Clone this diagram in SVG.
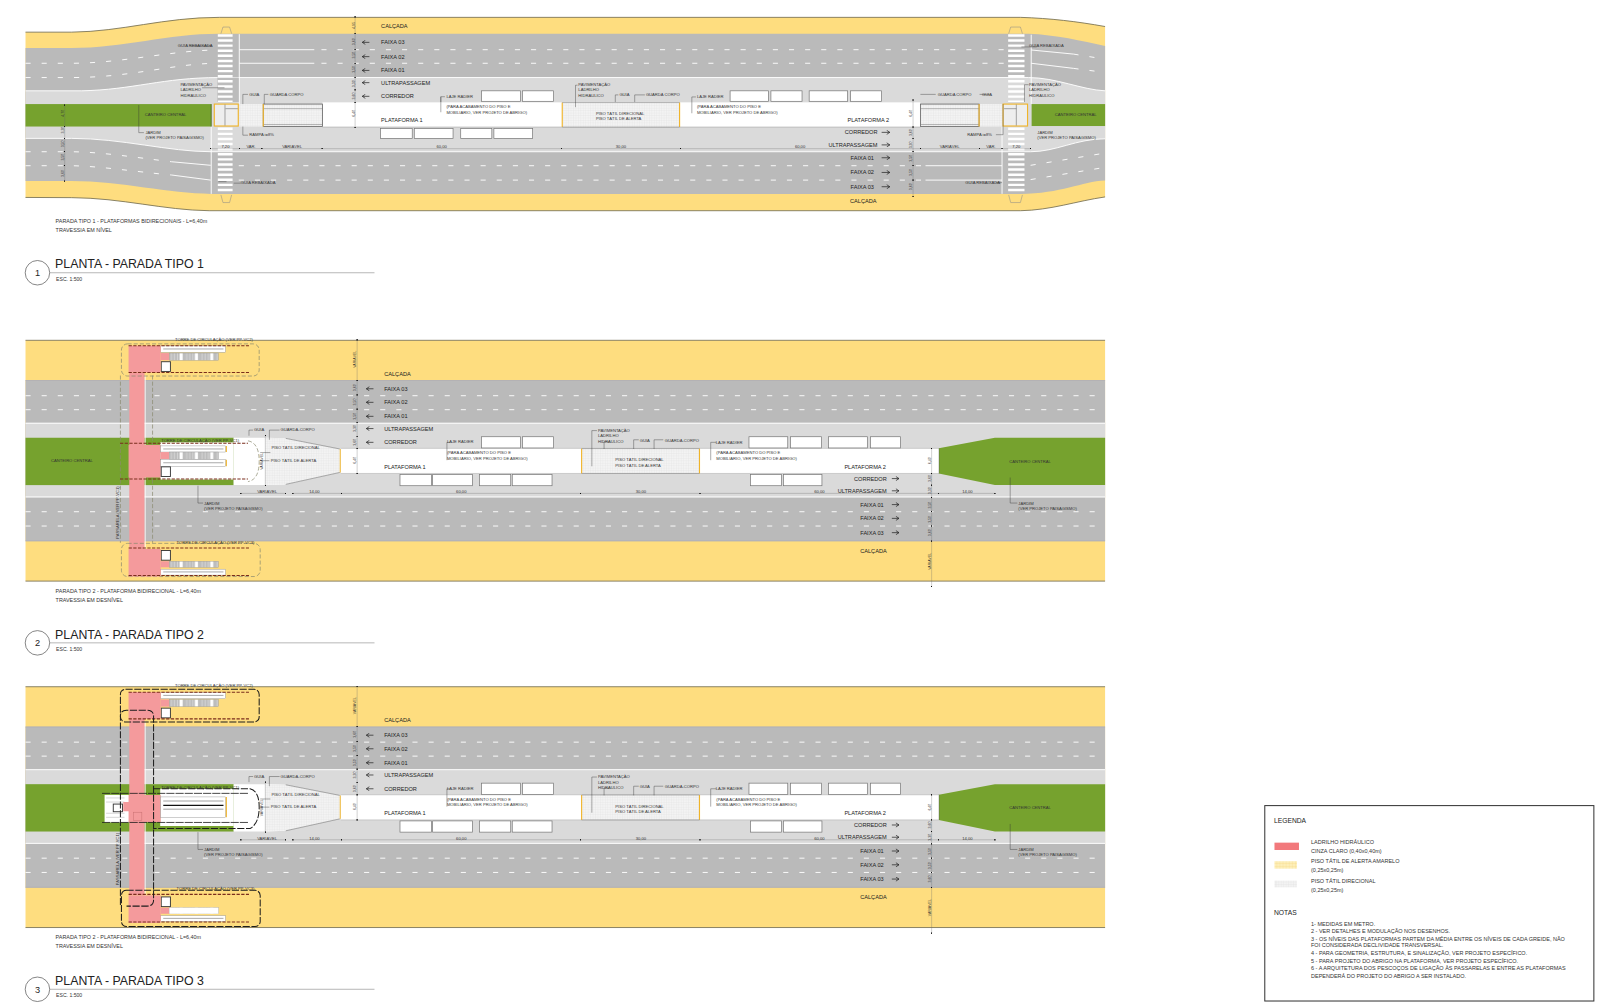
<svg xmlns="http://www.w3.org/2000/svg" width="1600" height="1008" viewBox="0 0 1600 1008">
<style>
text{font-family:"Liberation Sans",Arial,sans-serif;fill:#222}
.r{font-size:5.5px}.s{font-size:4.05px;fill:#333}.c{font-size:5.3px;fill:#333}.n{font-size:5.4px;fill:#333}.q{font-size:5px;fill:#333}
.h{font-size:6.6px}.t{font-size:12.1px}.v{font-size:3.5px;text-anchor:middle;fill:#333}.e{text-anchor:end}.m{text-anchor:middle}
.yel{fill:#fedd7f}.gry{fill:#bababa}.lgt{fill:#dadada}.grn{fill:#76a22e}.pnk{fill:#f49a9c}
.edge{fill:none;stroke:#6f6a50;stroke-width:.8}.wl{fill:none;stroke:#fff;stroke-width:.9}
.d{fill:none;stroke:#fff;stroke-width:.9;stroke-dasharray:5 10.8}
.zb{fill:none;stroke:#fff;stroke-dasharray:2.4 2.6}
.sh{fill:#fff;stroke:#777;stroke-width:.7}
.dim{fill:none;stroke:#666;stroke-width:.3;marker-start:url(#tk);marker-mid:url(#tk);marker-end:url(#tk)}
.ld{fill:none;stroke:#333;stroke-width:.4}
.ar{fill:none;stroke:#222;stroke-width:.7;marker-end:url(#ah)}
.oy{fill:none;stroke:#f0b429;stroke-width:1.1}
.rail{fill:none;stroke:#7a2d1c;stroke-width:1;stroke-dasharray:3.2 1.4}
.dg{fill:none;stroke:#8a8a70;stroke-width:.7;stroke-dasharray:4 2}
.dk{fill:none;stroke:#1c1c1c;stroke-width:1;stroke-dasharray:7 1.6}
.esc{fill:#fff;stroke:#888;stroke-width:.4}.escg{fill:url(#stp);stroke:#999;stroke-width:.4}
.box{fill:#fff;stroke:#333;stroke-width:.9}
</style>
<defs>
<pattern id="dir" width="2.4" height="2.4" patternUnits="userSpaceOnUse"><rect width="2.4" height="2.4" fill="#f3f3f3"/><path d="M0,0H2.4M0,0V2.4" stroke="#dcdcdc" stroke-width=".4"/></pattern>
<pattern id="ale" width="3" height="3" patternUnits="userSpaceOnUse"><rect width="3" height="3" fill="#fdeeb8"/><path d="M0,0H3M0,0V3" stroke="#f5d47a" stroke-width=".5"/></pattern>
<pattern id="stp" x="166" width="15" height="7" patternUnits="userSpaceOnUse"><rect width="15" height="7" fill="#bdbdbd"/><rect x="10" width="3" height="7" fill="#fff"/><path d="M2,0V7M5,0V7M8,0V7" stroke="#e8e8e8" stroke-width=".5"/></pattern>
<marker id="tk" markerUnits="userSpaceOnUse" markerWidth="1.4" markerHeight="1.4" refX=".7" refY=".7"><rect width="1.4" height="1.4" fill="#111"/></marker>
<marker id="ah" markerUnits="userSpaceOnUse" markerWidth="5" markerHeight="5" refX="4.4" refY="2.5" orient="auto"><path d="M1.4,.5L4.4,2.5L1.4,4.5" fill="none" stroke="#222" stroke-width=".7"/></marker>
<g id="base23">
<rect class="yel" x="25" y="333.5" width="1058" height="236"/>
<path class="edge" d="M25,333.5H1083M25,569.5H1083"/>
<rect class="gry" x="25" y="372.7" width="1058" height="157.6"/>
<path d="M25,372.9H1083M25,530.1H1083" stroke="#a9aab8" stroke-width=".7" fill="none"/>
<rect class="lgt" x="25" y="414.3" width="1058" height="73.2"/>
<path class="wl" d="M25,414.8H1083M25,487H1083"/>
<path class="d" d="M25,387.8H1083M25,401.5H1083M25,501.5H1083M25,515.5H1083"/>
<rect class="grn" x="25" y="429" width="204" height="46.4"/>
<polygon class="grn" points="920,439.4 975,429 1083,429 1083,475.4 975,475.4 920,464"/>
<path d="M920,439.4V464" stroke="#555" stroke-width=".9"/>
<rect fill="#fff" x="157" y="433.5" width="72" height="36.5"/>
<polygon fill="#fff" points="229,429 260,429 280,429.6 333,440 333,463 280,474.7 260,475.4 229,475.4"/>
<polygon fill="url(#dir)" points="260,429 280,429.6 333,440 333,463 280,474.7 260,475.4"/>
<path d="M280,429.6L333,440M280,474.7L333,463" stroke="#777" stroke-width=".6" fill="none"/>
<path class="oy" d="M333.5,440V463"/>
<rect fill="#fff" x="334" y="439.4" width="586" height="24.6"/>
<path d="M334,439.4H920M334,464H920" stroke="#aaa" stroke-width=".5"/>
<rect fill="url(#dir)" x="570" y="439.6" width="115.5" height="24.2"/>
<path class="oy" d="M570,439.6V464M685.5,439.6V464"/>
<path d="M570,439.6H685.5M570,464H685.5" stroke="#888" stroke-width=".6"/>
<rect class="sh" x="472" y="428" width="38" height="11"/><rect class="sh" x="512" y="428" width="30.5" height="11"/>
<rect class="sh" x="734" y="428" width="38" height="11"/><rect class="sh" x="774.7" y="428" width="30.5" height="11"/>
<rect class="sh" x="812" y="428" width="38" height="11"/><rect class="sh" x="853" y="428" width="29.5" height="11"/>
<rect class="sh" x="392" y="465" width="31" height="11"/><rect class="sh" x="424" y="465" width="39" height="11"/>
<rect class="sh" x="470" y="465" width="30.5" height="11"/><rect class="sh" x="502" y="465" width="39" height="11"/>
<rect class="sh" x="735.5" y="465" width="30.5" height="11"/><rect class="sh" x="767.7" y="465" width="37.8" height="11"/>
<path class="ar" d="M366,381H359"/><path class="ar" d="M366,394.3H359"/><path class="ar" d="M366,408H359"/><path class="ar" d="M366,420H359"/><path class="ar" d="M366,433.5H359"/>
<path class="ar" d="M874,469H881"/><path class="ar" d="M874,481H881"/><path class="ar" d="M874,494.5H881"/><path class="ar" d="M874,508H881"/><path class="ar" d="M874,522H881"/>
<path class="dim" d="M350,333V372.7V387V401V414.3V427.5V439.4V464"/>
<path class="dim" d="M913,439.4V464V475.5V487.5V501.5V515.5V530.3V575"/>
<path class="dim" d="M236,483.5H280M287,483.5H334.6H569H686H920H975"/>
<path class="dim" d="M260,427V476"/>
<path class="ld" d="M244,427V421.5H248M264,431V421.5H274M194,476V493H199M438,433.5V451M438,433.5H441M702,433.5H696.5V451M580,457V422H585M592,440V433H597M621,440V431H626M641,440V431H650M990,468V493H997M255,443.5H265M255,451.5H264"/>
</g>
<g id="tw-top">
<rect class="esc" x="157.5" y="339" width="63.5" height="6.3"/><path d="M160,342H219" stroke="#555" stroke-width=".5"/>
<rect class="pnk" x="157.5" y="346" width="8.5" height="7"/><rect class="escg" x="166" y="346" width="48" height="7"/>
<rect class="box" x="158" y="354.5" width="9" height="9.5"/>
<rect class="pnk" x="126" y="338.8" width="31.5" height="26.2"/>
<path class="rail" d="M126,338.8H244M126,365H244"/>
</g>
<g id="tw-bot">
<rect class="esc" x="157.5" y="557.8" width="63.5" height="5.8"/><path d="M160,560.5H219" stroke="#555" stroke-width=".5"/>
<rect class="pnk" x="157.5" y="550" width="8.5" height="6"/><rect class="escg" x="166" y="550" width="48" height="6"/>
<rect class="box" x="158" y="539.5" width="9" height="9.5"/>
<rect class="pnk" x="126" y="538" width="31.5" height="27"/>
<path class="rail" d="M126,537H244M126,564H244"/>
</g>
<rect id="bridge" class="pnk" x="126.7" y="365" width="15" height="173"/>
</defs>
<rect width="1600" height="1008" fill="#fff"/>
<g transform="scale(1.0204)">
<g id="plano-1">
<path class="yel" d="M25,31.5L70,31.5C120,31 160,17 215,17L1000,17C1030,18 1055,21 1083,26L1083,193C1055,197 1030,206 1000,206.5L205,206.5C160,206 120,194 70,193.7L25,193.5Z"/>
<path class="edge" d="M25,31.5L70,31.5C120,31 160,17 215,17L1000,17C1030,18 1055,21 1083,26M1083,193C1055,197 1030,206 1000,206.5L205,206.5C160,206 120,194 70,193.7L25,193.5"/>
<path class="gry" d="M25,47L70,47C120,47 165,33 214,33L1008,33C1035,34 1060,40 1083,45L1083,177C1060,178 1040,190 1000,190L207,190C165,190 120,177.5 70,177.5L25,177.5Z"/>
<path class="lgt" d="M25,89L80,89C130,88 160,76 214,76L1008,76C1035,76 1060,88 1083,89L1083,136C1055,136 1035,148.7 1010,148.7L207,148.7C165,148.7 120,135.6 70,135.6L25,135.6Z"/>
<path class="wl" d="M25,89L80,89C130,88 160,76 214,76L1008,76C1035,76 1060,88 1083,89M25,135.6L70,135.6C120,135.6 165,148.7 207,148.7L1010,148.7C1035,148.7 1055,136 1083,136"/>
<path class="d" d="M25,62L70,62C120,62 170,49 214,49M25,76L70,76C130,76 170,62 214,62M315,48.7H988M315,62H988M1052,53L1083,58M1052,67L1083,71M25,148.7L70,148.7C100,149 130,154 168,158.5M25,162.4L70,162.4C100,163 130,168 168,171.5M234,162.4H907M234,176.5H907M1010,162L1083,150M1010,176L1083,164"/>
<path class="wl" d="M234.5,48.7H308M234.5,62H308M168,158.5L206.5,162M168,171.5L206.5,176.5M907,162.4H982M907,176.5H982M1010.6,49L1052,53M1010.6,62L1052,67M234.5,33.5V102M1010.6,34V102M207,124V190M982,124V190"/>
<rect fill="#bcbcbc" x="213" y="76" width="21" height="24"/>
<path class="zb" stroke-width="14.5" d="M220.7,33.5V100M220.7,125V190"/>
<path class="zb" stroke-width="16" d="M996,33.5V100M996,125V190"/>
<path d="M216.5,33L218.5,26.5H225L227,33M216.5,191L218.5,198.5H225L227,191M988.5,33L990.5,26.5H1000L1002,33M988.5,191L990.5,198.5H1000L1002,191" fill="none" stroke="#888" stroke-width=".5"/>
<rect class="grn" x="25" y="102" width="182" height="22"/>
<path d="M207,102V124" stroke="#4c6a1c" stroke-width=".8"/>
<rect class="grn" x="1011" y="102" width="72" height="21.5"/>
<rect fill="#fff" x="316" y="100.3" width="586" height="24.2"/>
<path d="M316,124.5H902" stroke="#999" stroke-width=".5"/>
<rect fill="url(#dir)" x="551" y="100.5" width="115" height="24"/>
<path class="oy" d="M551,100.5V124.5M666,100.5V124.5"/>
<path d="M551,100.5H666M551,124.5H666" stroke="#888" stroke-width=".6"/>
<rect fill="url(#dir)" x="234.5" y="102" width="23.5" height="22"/>
<rect fill="url(#dir)" x="258" y="102" width="58" height="22" stroke="#666" stroke-width=".8"/>
<path d="M258,106.5H316M258,122H316" stroke="#777" stroke-width=".5"/>
<path class="oy" d="M258,102V124"/>
<rect fill="url(#dir)" x="959.5" y="102" width="23.5" height="22"/>
<rect fill="url(#dir)" x="902" y="102" width="57.5" height="22" stroke="#666" stroke-width=".8"/>
<path d="M902,106.5H959.5M902,122H959.5" stroke="#777" stroke-width=".5"/>
<path class="oy" d="M959.5,102V124"/>
<rect x="210" y="102" width="23.5" height="21.5" fill="#eee" stroke="#f0b429" stroke-width="1.1"/>
<path d="M220.5,102.5V123M221,106.5H233" stroke="#555" stroke-width=".5" fill="none"/>
<rect x="983" y="102" width="24" height="21.5" fill="#eee" stroke="#f0b429" stroke-width="1.1"/>
<path d="M996,102.5V123M984,106.5H996" stroke="#555" stroke-width=".5" fill="none"/>
<rect class="sh" x="472" y="89" width="38" height="10.3"/><rect class="sh" x="512" y="89" width="30.5" height="10.3"/>
<rect class="sh" x="715.5" y="89" width="37.5" height="10.3"/><rect class="sh" x="755.5" y="89" width="30.5" height="10.3"/>
<rect class="sh" x="793" y="89" width="37.7" height="10.3"/><rect class="sh" x="833.5" y="89" width="30.5" height="10.3"/>
<rect class="sh" x="373" y="126" width="31" height="9.6"/><rect class="sh" x="406" y="126" width="38" height="9.6"/>
<rect class="sh" x="451.5" y="126" width="30.5" height="9.6"/><rect class="sh" x="484" y="126" width="38" height="9.6"/>
<path class="ar" d="M362,41.5H355"/><path class="ar" d="M362,55.5H355"/><path class="ar" d="M362,69H355"/><path class="ar" d="M362,81H355"/><path class="ar" d="M362,94.4H355"/>
<path class="ar" d="M864,129.7H872"/><path class="ar" d="M864,142H872"/><path class="ar" d="M864,154.6H872"/><path class="ar" d="M864,169H872"/><path class="ar" d="M864,183H872"/>
<path class="dim" d="M348,16.5V33V48.7V62V76V88V100.3V124.8"/>
<path class="dim" d="M63.4,103V124V135.6V148.7V162.4V177.5"/>
<path class="dim" d="M894.8,98V124.5V136V148.7V162.4V176.5V192.8"/>
<path class="dim" d="M206.5,145.7H234.5H256.6H315.7H550H667H902H960H982H1010"/>
<path class="ld" d="M136,103V130H141M238,102V92.5H243M259,102V92.5H263M238,124V132.5H243M222,178H214M236,179.5H229M208,45H186M220,86H198M432,100V94.8H436M432,94.8V110M564,105V83.5H566M603,100V93H606M622,100V93H632M678,95H682M678,95V111M1001,46H1016M1004,100V83H1008M970,92.5H960M917,92.5H902M983,102V132H976M982,179H976"/>
<text class="r" x="373.5" y="27.5">CALÇADA</text>
<text class="r" x="373.5" y="43.5">FAIXA 03</text><text class="r" x="373.5" y="57.5">FAIXA 02</text><text class="r" x="373.5" y="71">FAIXA 01</text><text class="r" x="373.5" y="83">ULTRAPASSAGEM</text><text class="r" x="373.5" y="96.5">CORREDOR</text>
<text class="r" x="373.5" y="119.5">PLATAFORMA 1</text><text class="r" x="830.5" y="119.5">PLATAFORMA 2</text>
<text class="r e" x="860" y="131.7">CORREDOR</text><text class="r e" x="860" y="144">ULTRAPASSAGEM</text><text class="r e" x="856.5" y="156.6">FAIXA 01</text><text class="r e" x="856.5" y="171">FAIXA 02</text><text class="r e" x="856.5" y="185">FAIXA 03</text>
<text class="r" x="833" y="198.7">CALÇADA</text>
<text class="s" x="174.3" y="46.3">GUIA REBAIXADA</text><text class="s" x="236" y="180.5">GUIA REBAIXADA</text><text class="s" x="1008.5" y="46.3">GUIA REBAIXADA</text><text class="s" x="946" y="180.5">GUIA REBAIXADA</text>
<text class="s" x="176.8" y="84.5">PAVIMENTAÇÃO</text><text class="s" x="176.8" y="89.5">LADRILHO</text><text class="s" x="176.8" y="95">HIDRÁULICO</text>
<text class="s" x="1008.5" y="84.5">PAVIMENTAÇÃO</text><text class="s" x="1008.5" y="89.5">LADRILHO</text><text class="s" x="1008.5" y="95">HIDRÁULICO</text>
<text class="s" x="566.8" y="84.5">PAVIMENTAÇÃO</text><text class="s" x="566.8" y="89.5">LADRILHO</text><text class="s" x="566.8" y="95">HIDRÁULICO</text>
<text class="s" x="244.3" y="93.8">GUIA</text><text class="s" x="264.3" y="93.8">GUARDA CORPO</text>
<text class="s" x="607" y="93.8">GUIA</text><text class="s" x="633" y="93.8">GUARDA CORPO</text>
<text class="s" x="919" y="93.8">GUARDA CORPO</text><text class="s" x="962.3" y="93.8">GUIA</text>
<text class="s" x="584" y="113">PISO TÁTIL DIRECIONAL</text><text class="s" x="584" y="118">PISO TÁTIL DE ALERTA</text>
<text class="s" x="437.5" y="96">LAJE RADIER</text><text class="s" x="437.5" y="106.2">(PARA ACABAMENTO DO PISO E</text><text class="s" x="437.5" y="111.7">MOBILIÁRIO, VER PROJETO DE ABRIGO)</text>
<text class="s" x="683" y="96">LAJE RADIER</text><text class="s" x="683" y="106.2">(PARA ACABAMENTO DO PISO E</text><text class="s" x="683" y="111.7">MOBILIÁRIO, VER PROJETO DE ABRIGO)</text>
<text class="s" x="141.8" y="113.3">CANTEIRO CENTRAL</text><text class="s" x="1033.7" y="113.3">CANTEIRO CENTRAL</text>
<text class="s" x="142.5" y="131.3">JARDIM</text><text class="s" x="142.5" y="136.5">(VER PROJETO PAISAGISMO)</text>
<text class="s" x="1016.6" y="131.3">JARDIM</text><text class="s" x="1016.6" y="136.5">(VER PROJETO PAISAGISMO)</text>
<text class="s" x="244.3" y="133.7">RAMPA i=8%</text><text class="s" x="948" y="133.7">RAMPA i=8%</text>
<text class="s" x="217" y="144.8">7,20</text><text class="s" x="241.5" y="144.8">VAR.</text><text class="s" x="276.5" y="144.8">VARIÁVEL</text><text class="s" x="427.7" y="144.8">60,00</text><text class="s" x="603.5" y="144.8">30,00</text><text class="s" x="779" y="144.8">60,00</text><text class="s" x="921" y="144.8">VARIÁVEL</text><text class="s" x="966.5" y="144.8">VAR.</text><text class="s" x="992" y="144.8">7,20</text>
<text class="v" transform="rotate(-90 347.5 25)" x="347.5" y="25">4,95</text><text class="v" transform="rotate(-90 347.5 41)" x="347.5" y="41">3,60</text><text class="v" transform="rotate(-90 347.5 54)" x="347.5" y="54">3,50</text><text class="v" transform="rotate(-90 347.5 68)" x="347.5" y="68">3,50</text><text class="v" transform="rotate(-90 347.5 82)" x="347.5" y="82">3,30</text><text class="v" transform="rotate(-90 347.5 94)" x="347.5" y="94">3,60</text><text class="v" transform="rotate(-90 347.5 111)" x="347.5" y="111">6,40</text>
<text class="v" transform="rotate(-90 62.5 111)" x="62.5" y="111">4,70</text><text class="v" transform="rotate(-90 62.5 127.5)" x="62.5" y="127.5">3,30</text><text class="v" transform="rotate(-90 62.5 141)" x="62.5" y="141">3,50</text><text class="v" transform="rotate(-90 62.5 154)" x="62.5" y="154">3,50</text><text class="v" transform="rotate(-90 62.5 170)" x="62.5" y="170">3,60</text>
<text class="v" transform="rotate(-90 894 111)" x="894" y="111">6,40</text><text class="v" transform="rotate(-90 894 130)" x="894" y="130">3,60</text><text class="v" transform="rotate(-90 894 142)" x="894" y="142">3,30</text><text class="v" transform="rotate(-90 894 155)" x="894" y="155">3,50</text><text class="v" transform="rotate(-90 894 169)" x="894" y="169">3,50</text><text class="v" transform="rotate(-90 894 183)" x="894" y="183">3,60</text>
<text class="c" x="54.5" y="219">PARADA TIPO 1 - PLATAFORMAS BIDIRECIONAIS - L=6,40m</text><text class="c" x="54.5" y="227">TRAVESSIA EM NÍVEL</text>
<circle cx="36.7" cy="267.3" r="12" fill="#fff" stroke="#555" stroke-width=".7"/><text class="h m" x="36.7" y="270.5" style="font-size:9px">1</text>
<path d="M49,267.3H367" stroke="#888" stroke-width=".6"/>
<text class="t" x="54" y="263">PLANTA - PARADA TIPO 1</text><text class="q" x="55" y="275.5">ESC. 1:500</text>
</g>

<g id="plano-2">
<use href="#base23"/>
<use href="#bridge"/>
<path d="M142.3,368V538" stroke="#fff" stroke-width=".8"/>
<path class="dg" d="M118,368V532M149.5,368V532"/>
<rect x="119" y="337" width="135" height="31.5" rx="6" class="dg"/><rect x="119" y="532.5" width="136" height="32.5" rx="6" class="dg"/>
<use href="#tw-top"/><use href="#tw-bot"/>
<rect class="pnk" x="126" y="436" width="31.5" height="32"/>
<rect class="esc" x="157.5" y="437" width="63.5" height="6"/><path d="M160,440H219" stroke="#555" stroke-width=".5"/>
<rect class="pnk" x="157.5" y="443" width="8.5" height="7"/><rect class="escg" x="166" y="443" width="48" height="7"/>
<rect class="esc" x="157.5" y="450.5" width="63.5" height="6.5"/><path d="M160,453.5H219" stroke="#555" stroke-width=".5"/>
<rect class="box" x="158" y="457.5" width="9" height="9.5"/>
<path class="oy" d="M221.8,437V443M221.8,450.5V457"/>
<path class="rail" d="M117.6,434.5H243M117.6,469.5H243"/>
<path class="dg" d="M243,432Q254,434 254,452Q254,470 243,472"/>
<text class="s" x="171.5" y="334">TORRE DE CIRCULAÇÃO (VER PP-VC2)</text><text class="s" x="158" y="433.3">TORRE DE CIRCULAÇÃO (VER PP-VC1)</text><text class="s" x="173" y="533">TORRE DE CIRCULAÇÃO (VER PP-VC3)</text>
<text class="s" transform="rotate(-90 116.5 528)" x="116.5" y="528">PASSARELA (VER PP-VC1)</text>
<text class="s" x="50" y="452.5">CANTEIRO CENTRAL</text><text class="s" x="989" y="453.5">CANTEIRO CENTRAL</text>
<text class="s" x="249" y="422.5">GUIA</text><text class="s" x="275" y="422.5">GUARDA-CORPO</text>
<text class="s" x="266" y="440.2">PISO TÁTIL DIRECIONAL</text><text class="s" x="265.3" y="452.8">PISO TÁTIL DE ALERTA</text>
<text class="s" x="252" y="483.3">VARIÁVEL</text><text class="s" x="303" y="483.3">14,00</text><text class="s" x="447" y="483.3">60,00</text><text class="s" x="623" y="483.3">30,00</text><text class="s" x="798" y="483.3">60,00</text><text class="s" x="943" y="483.3">14,00</text>
<text class="s" x="200" y="494.5">JARDIM</text><text class="s" x="200" y="499.7">(VER PROJETO PAISAGISMO)</text><text class="s" x="998" y="494.5">JARDIM</text><text class="s" x="998" y="499.7">(VER PROJETO PAISAGISMO)</text>
<text class="r" x="376.5" y="368">CALÇADA</text><text class="r" x="376.5" y="383">FAIXA 03</text><text class="r" x="376.5" y="396.3">FAIXA 02</text><text class="r" x="376.5" y="410">FAIXA 01</text><text class="r" x="376.5" y="422">ULTRAPASSAGEM</text><text class="r" x="376.5" y="435.5">CORREDOR</text><text class="r" x="376.5" y="459.5">PLATAFORMA 1</text>
<text class="s" x="438" y="434.5">LAJE RADIER</text><text class="s" x="438" y="445">(PARA ACABAMENTO DO PISO E</text><text class="s" x="438" y="450.7">MOBILIÁRIO, VER PROJETO DE ABRIGO)</text>
<text class="s" x="586" y="423.2">PAVIMENTAÇÃO</text><text class="s" x="586" y="428.5">LADRILHO</text><text class="s" x="586" y="434.2">HIDRÁULICO</text><text class="s" x="627" y="433">GUIA</text><text class="s" x="651.5" y="433">GUARDA-CORPO</text>
<text class="s" x="701.5" y="434.8">LAJE RADIER</text><text class="s" x="702" y="445">(PARA ACABAMENTO DO PISO E</text><text class="s" x="702" y="450.7">MOBILIÁRIO, VER PROJETO DE ABRIGO)</text>
<text class="s" x="603" y="452.2">PISO TÁTIL DIRECIONAL</text><text class="s" x="603" y="457.3">PISO TÁTIL DE ALERTA</text>
<text class="r" x="827.5" y="459.5">PLATAFORMA 2</text><text class="r e" x="869" y="471">CORREDOR</text><text class="r e" x="869" y="483">ULTRAPASSAGEM</text><text class="r e" x="866" y="496.5">FAIXA 01</text><text class="r e" x="866" y="510">FAIXA 02</text><text class="r e" x="866" y="524">FAIXA 03</text><text class="r" x="843" y="542">CALÇADA</text>
<text class="v" transform="rotate(-90 349 352)" x="349" y="352">VARIÁVEL</text><text class="v" transform="rotate(-90 349 380)" x="349" y="380">3,60</text><text class="v" transform="rotate(-90 349 394)" x="349" y="394">3,50</text><text class="v" transform="rotate(-90 349 408)" x="349" y="408">3,50</text><text class="v" transform="rotate(-90 349 420)" x="349" y="420">3,30</text><text class="v" transform="rotate(-90 349 433.5)" x="349" y="433.5">3,60</text><text class="v" transform="rotate(-90 349 451)" x="349" y="451">6,40</text>
<text class="v" transform="rotate(-90 912 451.5)" x="912" y="451.5">6,40</text><text class="v" transform="rotate(-90 912 469)" x="912" y="469">3,60</text><text class="v" transform="rotate(-90 912 481)" x="912" y="481">3,30</text><text class="v" transform="rotate(-90 912 495)" x="912" y="495">3,50</text><text class="v" transform="rotate(-90 912 509)" x="912" y="509">3,50</text><text class="v" transform="rotate(-90 912 522)" x="912" y="522">3,60</text><text class="v" transform="rotate(-90 912 550)" x="912" y="550">VARIÁVEL</text>
<text class="v" transform="rotate(-90 257.5 452)" x="257.5" y="452">VARIÁVEL</text>
<text class="c" x="54.5" y="581">PARADA TIPO 2 - PLATAFORMA BIDIRECIONAL - L=6,40m</text><text class="c" x="54.5" y="589.5">TRAVESSIA EM DESNÍVEL</text>
<circle cx="36.7" cy="630" r="12" fill="#fff" stroke="#555" stroke-width=".7"/><text class="h m" x="36.7" y="633.2" style="font-size:9px">2</text>
<path d="M49,630H367" stroke="#888" stroke-width=".6"/>
<text class="t" x="54" y="626">PLANTA - PARADA TIPO 2</text><text class="q" x="55" y="638">ESC. 1:500</text>
</g>

<g id="plano-3">
<use href="#base23" y="339.5"/>
<rect fill="#fff" x="102.5" y="779" width="24" height="27"/>
<path d="M104,782H122M104,786H122M104,797H122M104,801H122" stroke="#999" stroke-width=".4"/>
<rect class="box" x="111" y="788" width="9" height="7.5"/>
<use href="#bridge" y="339.5"/>
<path d="M142.3,707V878" stroke="#fff" stroke-width=".8"/>
<use href="#tw-top" y="339.5"/><use href="#tw-bot" y="339.5"/>
<rect fill="#fff" x="166" y="889.5" width="48" height="6"/>
<path class="pnk" d="M120.8,786H126V779H157.5V805.5H126V795H120.8Z"/>
<rect x="131" y="796" width="8" height="8" fill="none" stroke="#c97072" stroke-width=".5"/>
<rect class="esc" x="157.5" y="781" width="63.5" height="20"/>
<path d="M160,785H219M160,793H219" stroke="#444" stroke-width=".5"/><path d="M160,789.3H219" stroke="#111" stroke-width="1.1"/>
<path class="oy" d="M221.8,781V801"/>
<path d="M100,777.5H243M100,806H243" stroke="#1c1c1c" stroke-width=".8" fill="none" stroke-dasharray="8 1"/>
<path class="dk" d="M150,773H245Q254,775 254,791Q254,807 245,812H150"/>
<rect class="dk" x="118" y="675.5" width="136" height="32" rx="5"/><rect class="dk" x="119" y="872.5" width="136" height="35.5" rx="5"/>
<path class="dk" d="M118,887V702Q118,696 124,696H144Q150.5,696 150.5,702V882Q150.5,888 144,888H124"/>
<text class="s" x="171.5" y="673.5">TORRE DE CIRCULAÇÃO (VER PP-VC2)</text><text class="s" x="158" y="772.8">TORRE DE CIRCULAÇÃO (VER PP-VC1)</text><text class="s" x="173" y="872.5">TORRE DE CIRCULAÇÃO (VER PP-VC3)</text>
<text class="s" transform="rotate(-90 116.5 867.5)" x="116.5" y="867.5">PASSARELA (VER PP-VC1)</text>
<text class="s" x="989" y="793">CANTEIRO CENTRAL</text>
<text class="s" x="249" y="762">GUIA</text><text class="s" x="275" y="762">GUARDA-CORPO</text>
<text class="s" x="266" y="779.7">PISO TÁTIL DIRECIONAL</text><text class="s" x="265.3" y="792.3">PISO TÁTIL DE ALERTA</text>
<text class="s" x="252" y="822.8">VARIÁVEL</text><text class="s" x="303" y="822.8">14,00</text><text class="s" x="447" y="822.8">60,00</text><text class="s" x="623" y="822.8">30,00</text><text class="s" x="798" y="822.8">60,00</text><text class="s" x="943" y="822.8">14,00</text>
<text class="s" x="200" y="834">JARDIM</text><text class="s" x="200" y="839.2">(VER PROJETO PAISAGISMO)</text><text class="s" x="998" y="834">JARDIM</text><text class="s" x="998" y="839.2">(VER PROJETO PAISAGISMO)</text>
<text class="r" x="376.5" y="707.5">CALÇADA</text><text class="r" x="376.5" y="722.5">FAIXA 03</text><text class="r" x="376.5" y="735.8">FAIXA 02</text><text class="r" x="376.5" y="749.5">FAIXA 01</text><text class="r" x="376.5" y="761.5">ULTRAPASSAGEM</text><text class="r" x="376.5" y="775">CORREDOR</text><text class="r" x="376.5" y="799">PLATAFORMA 1</text>
<text class="s" x="438" y="774">LAJE RADIER</text><text class="s" x="438" y="784.5">(PARA ACABAMENTO DO PISO E</text><text class="s" x="438" y="790.2">MOBILIÁRIO, VER PROJETO DE ABRIGO)</text>
<text class="s" x="586" y="762.7">PAVIMENTAÇÃO</text><text class="s" x="586" y="768">LADRILHO</text><text class="s" x="586" y="773.7">HIDRÁULICO</text><text class="s" x="627" y="772.5">GUIA</text><text class="s" x="651.5" y="772.5">GUARDA-CORPO</text>
<text class="s" x="701.5" y="774.3">LAJE RADIER</text><text class="s" x="702" y="784.5">(PARA ACABAMENTO DO PISO E</text><text class="s" x="702" y="790.2">MOBILIÁRIO, VER PROJETO DE ABRIGO)</text>
<text class="s" x="603" y="791.7">PISO TÁTIL DIRECIONAL</text><text class="s" x="603" y="796.8">PISO TÁTIL DE ALERTA</text>
<text class="r" x="827.5" y="799">PLATAFORMA 2</text><text class="r e" x="869" y="810.5">CORREDOR</text><text class="r e" x="869" y="822.5">ULTRAPASSAGEM</text><text class="r e" x="866" y="836">FAIXA 01</text><text class="r e" x="866" y="849.5">FAIXA 02</text><text class="r e" x="866" y="863.5">FAIXA 03</text><text class="r" x="843" y="881.5">CALÇADA</text>
<text class="v" transform="rotate(-90 349 691.5)" x="349" y="691.5">VARIÁVEL</text><text class="v" transform="rotate(-90 349 719.5)" x="349" y="719.5">3,60</text><text class="v" transform="rotate(-90 349 733.5)" x="349" y="733.5">3,50</text><text class="v" transform="rotate(-90 349 747.5)" x="349" y="747.5">3,50</text><text class="v" transform="rotate(-90 349 759.5)" x="349" y="759.5">3,30</text><text class="v" transform="rotate(-90 349 773)" x="349" y="773">3,60</text><text class="v" transform="rotate(-90 349 790.5)" x="349" y="790.5">6,40</text>
<text class="v" transform="rotate(-90 912 791)" x="912" y="791">6,40</text><text class="v" transform="rotate(-90 912 808.5)" x="912" y="808.5">3,60</text><text class="v" transform="rotate(-90 912 820.5)" x="912" y="820.5">3,30</text><text class="v" transform="rotate(-90 912 834.5)" x="912" y="834.5">3,50</text><text class="v" transform="rotate(-90 912 848.5)" x="912" y="848.5">3,50</text><text class="v" transform="rotate(-90 912 861.5)" x="912" y="861.5">3,60</text><text class="v" transform="rotate(-90 912 889.5)" x="912" y="889.5">VARIÁVEL</text>
<text class="v" transform="rotate(-90 257.5 791.5)" x="257.5" y="791.5">VARIÁVEL</text>
<text class="c" x="54.5" y="920.5">PARADA TIPO 2 - PLATAFORMA BIDIRECIONAL - L=6,40m</text><text class="c" x="54.5" y="929">TRAVESSIA EM DESNÍVEL</text>
<circle cx="36.7" cy="969.5" r="12" fill="#fff" stroke="#555" stroke-width=".7"/><text class="h m" x="36.7" y="972.7" style="font-size:9px">3</text>
<path d="M49,969.5H367" stroke="#888" stroke-width=".6"/>
<text class="t" x="54" y="965.5">PLANTA - PARADA TIPO 3</text><text class="q" x="55" y="977.5">ESC. 1:500</text>
</g>

<g id="legenda">
<rect x="1239.5" y="789.5" width="322.5" height="191.5" fill="#fff" stroke="#333" stroke-width="1"/>
<text class="h" x="1248.5" y="807">LEGENDA</text>
<rect x="1249" y="825.8" width="24" height="7.2" fill="#f2797c"/>
<rect x="1249" y="844" width="22" height="7.3" fill="url(#ale)"/>
<rect x="1249" y="863" width="22" height="6.6" fill="url(#dir)"/>
<text class="n" x="1284.8" y="827.2">LADRILHO HIDRÁULICO</text><text class="n" x="1284.8" y="835.8">CINZA CLARO (0,40x0,40m)</text>
<text class="n" x="1284.8" y="846.2">PISO TÁTIL DE ALERTA AMARELO</text><text class="n" x="1284.8" y="854.8">(0,25x0,25m)</text>
<text class="n" x="1284.8" y="865.2">PISO TÁTIL DIRECIONAL</text><text class="n" x="1284.8" y="873.8">(0,25x0,25m)</text>
<text class="h" x="1248.5" y="896.5">NOTAS</text>
<text class="n" x="1284.8" y="907.3">1- MEDIDAS EM METRO.</text>
<text class="n" x="1284.8" y="914.2">2 - VER DETALHES E MODULAÇÃO NOS DESENHOS.</text>
<text class="n" x="1284.8" y="922">3 - OS NÍVEIS DAS PLATAFORMAS PARTEM DA MÉDIA ENTRE OS NÍVEIS  DE CADA GREIDE, NÃO</text>
<text class="n" x="1284.8" y="928.5">FOI CONSIDERADA DECLIVIDADE TRANSVERSAL.</text>
<text class="n" x="1284.8" y="936">4 - PARA GEOMETRIA, ESTRUTURA, E SINALIZAÇÃO, VER PROJETO ESPECÍFICO.</text>
<text class="n" x="1284.8" y="943.6">5 - PARA PROJETO DO ABRIGO NA PLATAFORMA, VER PROJETO ESPECÍFICO.</text>
<text class="n" x="1284.8" y="950.7">6 - A ARQUITETURA DOS PESCOÇOS DE LIGAÇÃO ÀS PASSARELAS E ENTRE AS PLATAFORMAS</text>
<text class="n" x="1284.8" y="958.7">DEPENDERÁ DO  PROJETO DO ABRIGO A SER INSTALADO.</text>
</g>
</g>
</svg>
